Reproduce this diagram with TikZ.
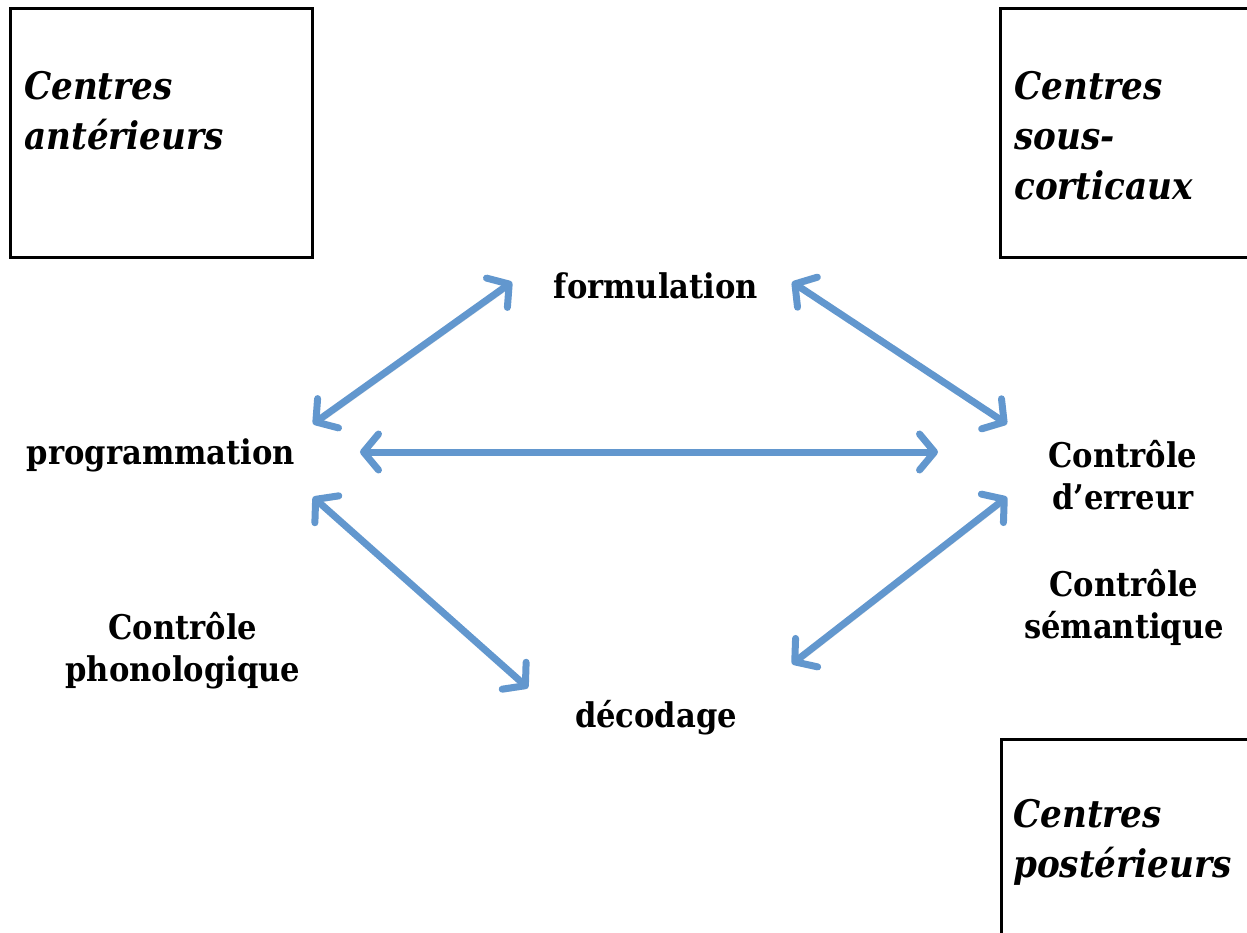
\documentclass[tikz,border=0pt]{standalone}
\usepackage{fontspec}
\setmainfont{DejaVu Serif Condensed}
\usetikzlibrary{arrows.meta}
\definecolor{arrowblue}{RGB}{98,151,206}
\tikzset{
  lbl/.style={font=\bfseries\fontsize{34}{42}\selectfont, align=center, inner sep=0pt},
  boxlbl/.style={font=\bfseries\itshape\fontsize{38}{50}\selectfont, align=left, anchor=base west, inner sep=0pt},
  centrebox/.style={draw=black, line width=3pt},
  link/.style={draw=arrowblue, line width=7pt,
    {Straight Barb[round,length=15pt,width=36pt,line width=7pt]}-{Straight Barb[round,length=15pt,width=36pt,line width=7pt]},
    preaction={draw=black!25, opacity=0.45, transform canvas={shift={(2pt,-3pt)}}}}
}
\begin{document}
\begin{tikzpicture}[x=1pt,y=-1pt]
\useasboundingbox (0,0) rectangle (1247,933);
% boxes
\draw[centrebox] (10,9) rectangle (312,258);
\draw[centrebox] (1255,9) -- (1000,9) -- (1000,258) -- (1255,258);
\draw[centrebox] (1255,739) -- (1001,739) -- (1001,945);
\node[boxlbl] (ant) at (24,150) {Centres\\antérieurs};
\node[boxlbl] (sous) at (1014,200) {Centres\\sous-\\corticaux};
\node[boxlbl] (post) at (1013,877) {Centres\\postérieurs};
% labels
\node[lbl] (form) at (656,286) {formulation};
\node[lbl] (prog) at (161,455) {programmation};
\node[lbl] (err) at (1123,475) {Contrôle\\d’erreur};
\node[lbl] (sem) at (1124,607) {Contrôle\\sémantique};
\node[lbl] (phon) at (183,651) {Contrôle\\phonologique};
\node[lbl] (dec) at (656,718) {décodage};
% arrow end points
\coordinate (fL) at (512,282);
\coordinate (pU) at (313,424);
\coordinate (fR) at (792,282);
\coordinate (eU) at (1007,424);
\coordinate (pR) at (360,452);
\coordinate (eL) at (938,452);
\coordinate (pD) at (313,497);
\coordinate (dL) at (528,688);
\coordinate (eD) at (1007,497);
\coordinate (dR) at (792,664);
\draw[link] (pU) -- (fL);
\draw[link] (fR) -- (eU);
\draw[link] (pR) -- (eL);
\draw[link] (pD) -- (dL);
\draw[link] (eD) -- (dR);
\end{tikzpicture}
\end{document}
